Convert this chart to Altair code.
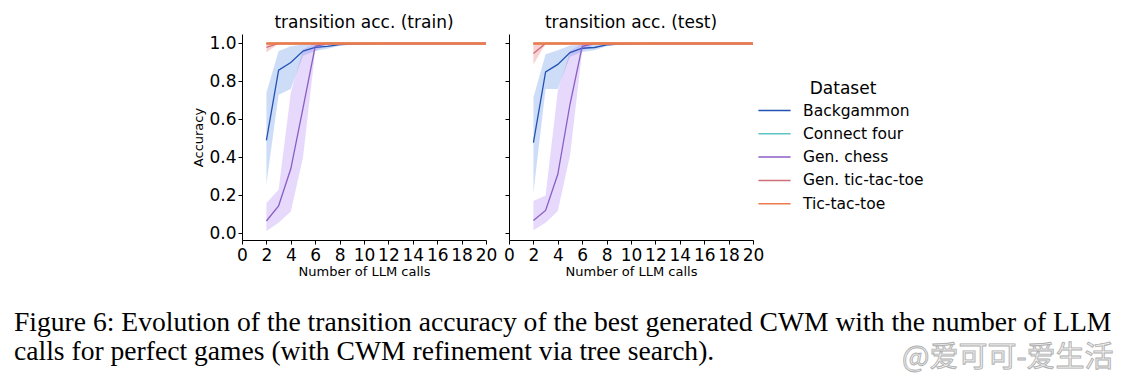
import altair as alt
import pandas as pd

calls = [2, 3, 4, 5, 6, 7, 8, 9, 10, 11, 12, 13, 14, 15, 16, 17, 18, 19, 20]
datasets = ["Backgammon", "Connect four", "Gen. chess", "Gen. tic-tac-toe", "Tic-tac-toe"]
line_colors = ["#2352b5", "#5ec4c4", "#8b5ec4", "#cf6f78", "#ec7c4c"]
band_colors = ["#4a80e0", "#5ec4c4", "#a472f0", "#e05560", "#ee8a5a"]
x_ticks = [0, 2, 4, 6, 8, 10, 12, 14, 16, 18, 20]
y_ticks = [0.0, 0.2, 0.4, 0.6, 0.8, 1.0]

all_ones = [1.0, 1.0, 1.0, 1.0, 1.0, 1.0, 1.0, 1.0, 1.0, 1.0, 1.0, 1.0, 1.0, 1.0, 1.0, 1.0, 1.0, 1.0, 1.0]

# ---- train ----
bg_train_mean = [0.49, 0.86, 0.90, 0.96, 0.98, 0.985, 0.994, 0.997, 0.998, 0.999, 1.0, 1.0, 1.0, 1.0, 1.0, 1.0, 1.0, 1.0, 1.0]
bg_train_lo = [0.26, 0.73, 0.76, 0.935, 0.96, 0.972, 0.988, 0.993, 0.995, 0.997, 0.998, 0.999, 1.0, 1.0, 1.0, 1.0, 1.0, 1.0, 1.0]
bg_train_hi = [0.74, 0.96, 0.985, 0.995, 1.0, 1.0, 1.0, 1.0, 1.0, 1.0, 1.0, 1.0, 1.0, 1.0, 1.0, 1.0, 1.0, 1.0, 1.0]
chess_train_mean = [0.065, 0.145, 0.34, 0.66, 0.985, 1.0, 1.0, 1.0, 1.0, 1.0, 1.0, 1.0, 1.0, 1.0, 1.0, 1.0, 1.0, 1.0, 1.0]
chess_train_lo = [0.012, 0.056, 0.115, 0.40, 0.96, 0.995, 1.0, 1.0, 1.0, 1.0, 1.0, 1.0, 1.0, 1.0, 1.0, 1.0, 1.0, 1.0, 1.0]
chess_train_hi = [0.16, 0.23, 0.74, 0.97, 1.0, 1.0, 1.0, 1.0, 1.0, 1.0, 1.0, 1.0, 1.0, 1.0, 1.0, 1.0, 1.0, 1.0, 1.0]
gttt_train_mean = [0.979, 1.0, 1.0, 1.0, 1.0, 1.0, 1.0, 1.0, 1.0, 1.0, 1.0, 1.0, 1.0, 1.0, 1.0, 1.0, 1.0, 1.0, 1.0]
gttt_train_lo = [0.952, 1.0, 1.0, 1.0, 1.0, 1.0, 1.0, 1.0, 1.0, 1.0, 1.0, 1.0, 1.0, 1.0, 1.0, 1.0, 1.0, 1.0, 1.0]

# ---- test ----
bg_test_mean = [0.478, 0.85, 0.89, 0.952, 0.975, 0.979, 0.993, 0.997, 0.998, 0.999, 1.0, 1.0, 1.0, 1.0, 1.0, 1.0, 1.0, 1.0, 1.0]
bg_test_lo = [0.214, 0.76, 0.76, 0.93, 0.955, 0.965, 0.985, 0.993, 0.995, 0.997, 0.998, 0.999, 1.0, 1.0, 1.0, 1.0, 1.0, 1.0, 1.0]
bg_test_hi = [0.715, 0.944, 0.965, 0.99, 0.995, 1.0, 1.0, 1.0, 1.0, 1.0, 1.0, 1.0, 1.0, 1.0, 1.0, 1.0, 1.0, 1.0, 1.0]
chess_test_mean = [0.068, 0.121, 0.311, 0.68, 0.985, 1.0, 1.0, 1.0, 1.0, 1.0, 1.0, 1.0, 1.0, 1.0, 1.0, 1.0, 1.0, 1.0, 1.0]
chess_test_lo = [0.016, 0.056, 0.118, 0.41, 0.96, 0.995, 1.0, 1.0, 1.0, 1.0, 1.0, 1.0, 1.0, 1.0, 1.0, 1.0, 1.0, 1.0, 1.0]
chess_test_hi = [0.17, 0.20, 0.75, 0.96, 1.0, 1.0, 1.0, 1.0, 1.0, 1.0, 1.0, 1.0, 1.0, 1.0, 1.0, 1.0, 1.0, 1.0, 1.0]
gttt_test_mean = [0.947, 1.0, 1.0, 1.0, 1.0, 1.0, 1.0, 1.0, 1.0, 1.0, 1.0, 1.0, 1.0, 1.0, 1.0, 1.0, 1.0, 1.0, 1.0]
gttt_test_lo = [0.89, 1.0, 1.0, 1.0, 1.0, 1.0, 1.0, 1.0, 1.0, 1.0, 1.0, 1.0, 1.0, 1.0, 1.0, 1.0, 1.0, 1.0, 1.0]

caption_line1 = "Figure 6: Evolution of the transition accuracy of the best generated CWM with the number of LLM"
caption_line2 = "calls for perfect games (with CWM refinement via tree search)."
watermark = "@爱可可-爱生活"

series = {
    "train": {
        "Backgammon": (bg_train_mean, bg_train_lo, bg_train_hi),
        "Connect four": (all_ones, all_ones, all_ones),
        "Gen. chess": (chess_train_mean, chess_train_lo, chess_train_hi),
        "Gen. tic-tac-toe": (gttt_train_mean, gttt_train_lo, all_ones),
        "Tic-tac-toe": (all_ones, all_ones, all_ones),
    },
    "test": {
        "Backgammon": (bg_test_mean, bg_test_lo, bg_test_hi),
        "Connect four": (all_ones, all_ones, all_ones),
        "Gen. chess": (chess_test_mean, chess_test_lo, chess_test_hi),
        "Gen. tic-tac-toe": (gttt_test_mean, gttt_test_lo, all_ones),
        "Tic-tac-toe": (all_ones, all_ones, all_ones),
    },
}

rows = []
for split, d in series.items():
    for name, (m, lo, hi) in d.items():
        for i, c in enumerate(calls):
            rows.append({"split": split, "Dataset": name, "calls": c,
                         "mean": m[i], "lo": lo[i], "hi": hi[i]})
df = pd.DataFrame(rows)


def panel(split, title, first):
    d = df[df.split == split]
    xenc = alt.X("calls:Q", scale=alt.Scale(domain=[0, 20], nice=False, zero=False),
                 axis=alt.Axis(values=x_ticks, title="Number of LLM calls", labelFlush=False,
                               labelOverlap=False, format="d"))
    if first:
        yaxis = alt.Axis(values=y_ticks, format=".1f", title="Accuracy", labelFlush=False,
                         labelOverlap=False)
        leg = None
    else:
        yaxis = alt.Axis(values=y_ticks, format=".1f", title=None, labels=False)
        leg = alt.Legend(title="Dataset", orient="none", legendX=253, legendY=47,
                         symbolType="M-1.4,0H1.4", symbolSize=529, symbolStrokeWidth=1.5,
                         symbolFillColor="transparent",
                         labelOffset=16, rowPadding=2.3, titlePadding=0)
    yscale = alt.Scale(domain=[-0.035, 1.05], nice=False, zero=False)
    cscale = alt.Scale(domain=datasets, range=line_colors)

    band = alt.Chart(d).mark_area(fillOpacity=0.27).encode(
        x=xenc,
        y=alt.Y("lo:Q", scale=yscale, axis=yaxis),
        y2="hi:Q",
        fill=alt.Fill("Dataset:N", scale=alt.Scale(domain=datasets, range=band_colors), legend=None),
    )
    line = alt.Chart(d).mark_line(strokeWidth=1.3).encode(
        x=xenc,
        y=alt.Y("mean:Q", scale=yscale, axis=yaxis),
        color=alt.Color("Dataset:N", scale=cscale, legend=leg),
    )
    thick = alt.Chart(d[d.Dataset == "Tic-tac-toe"]).mark_line(strokeWidth=2.6).encode(
        x=xenc,
        y=alt.Y("mean:Q", scale=yscale, axis=yaxis),
        color=alt.Color("Dataset:N", scale=cscale, legend=leg),
    )
    layers = [band, line, thick]
    if first:
        cap1 = alt.Chart(pd.DataFrame({"t": [caption_line1]})).mark_text(
            align="left", baseline="alphabetic", font="Liberation Serif", fontSize=27.6, color="black"
        ).encode(text="t:N", x=alt.value(-228), y=alt.value(297))
        cap2 = alt.Chart(pd.DataFrame({"t": [caption_line2]})).mark_text(
            align="left", baseline="alphabetic", font="Liberation Serif", fontSize=27.6, color="black"
        ).encode(text="t:N", x=alt.value(-228), y=alt.value(326))
        wm = alt.Chart(pd.DataFrame({"t": [watermark]})).mark_text(
            align="left", baseline="alphabetic", font="Noto Sans CJK SC", fontSize=29,
            fill="#eeeeee", stroke="#b0b0b0", strokeWidth=0.9
        ).encode(text="t:N", x=alt.value(660), y=alt.value(333))
        layers += [cap1, cap2, wm]
    return alt.layer(*layers).properties(
        width=244, height=206,
        title=alt.TitleParams(title, fontSize=17, font="DejaVu Sans", fontWeight="normal",
                              offset=2, anchor="middle", color="black"),
    )


chart = alt.hconcat(
    panel("train", "transition acc. (train)", True),
    panel("test", "transition acc. (test)", False),
    spacing=23, bounds="flush",
).resolve_legend(color="independent").properties(
    padding={"left": 14, "top": 14, "right": 5, "bottom": 5}
).configure_view(stroke=None).configure_axis(
    domainColor="black", tickColor="black", labelColor="black", titleColor="black",
    grid=False, tickSize=4, labelFontSize=17, titleFontSize=13, labelFont="DejaVu Sans",
    titleFont="DejaVu Sans", titleFontWeight="normal", domainWidth=1, tickWidth=1
).configure_axisX(labelPadding=3, titlePadding=2).configure_axisY(
    labelPadding=2, titlePadding=3
).configure_legend(
    titleFont="DejaVu Sans", titleFontSize=17, titleFontWeight="normal", titleColor="black",
    labelFont="DejaVu Sans", labelFontSize=15.5, labelColor="black", titleAnchor="middle"
)

chart.save("out.html", embed_options={"renderer": "svg", "actions": False})
